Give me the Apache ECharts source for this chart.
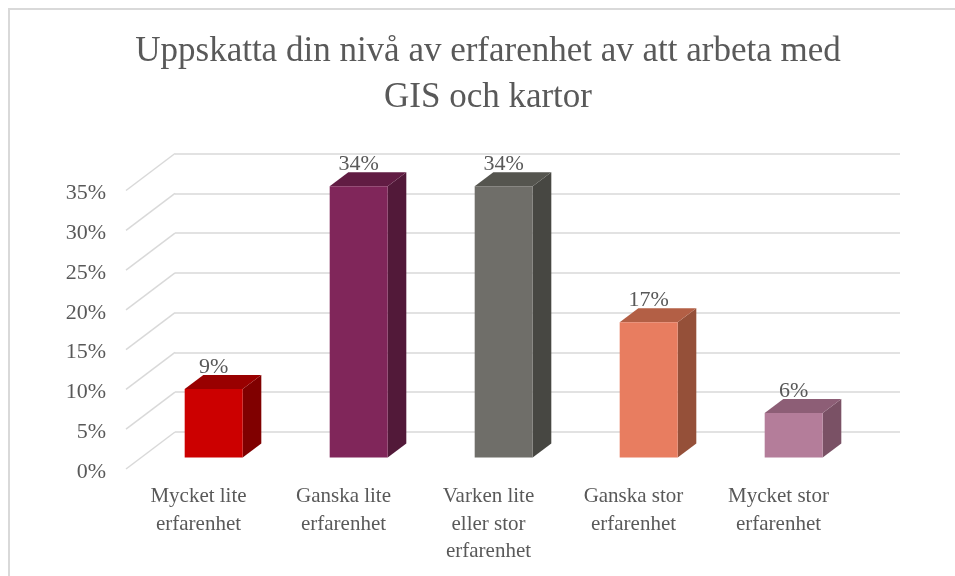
<!DOCTYPE html>
<html><head><meta charset="utf-8">
<script src="https://cdn.jsdelivr.net/npm/echarts@6/dist/echarts.min.js"></script>
<style>html,body{margin:0;padding:0;background:#fff}#c{width:955px;height:576px}</style>
</head><body><div id="c"></div>
<script>
const titleText = 'Uppskatta din nivå av erfarenhet av att arbeta med\nGIS och kartor';
const categories = ['Mycket lite\nerfarenhet', 'Ganska lite\nerfarenhet', 'Varken lite\neller stor\nerfarenhet', 'Ganska stor\nerfarenhet', 'Mycket stor\nerfarenhet'];
const values = [8.6, 34.1, 34.1, 17.0, 5.6];
const yTicks = [0, 5, 10, 15, 20, 25, 30, 35];
const frontColors = ['#CC0000', '#80265A', '#6F6E69', '#E87D60', '#B47D9A'];
const topColors = ['#990000', '#611C43', '#55554F', '#B35F45', '#8D5E76'];
const sideColors = ['#800000', '#521939', '#474742', '#955039', '#7A5165'];

const FONT = '"Liberation Serif", "DejaVu Serif", serif';
const TXT = '#595959';
const DX = -49, DY = 37;      // back wall -> front edge
const FF = 0.69, FB = 0.31;   // bar front/back face depth fractions

const chart = echarts.init(document.getElementById('c'), null, {renderer: 'canvas'});
chart.setOption({
  animation: false,
  backgroundColor: '#fff',
  graphic: [{type: 'rect', shape: {x: 9, y: 9, width: 1000, height: 1000}, style: {fill: 'none', stroke: '#d9d9d9', lineWidth: 2}, silent: true, z: -10}],
  title: {
    text: titleText, left: 488, textAlign: 'center', top: 29, padding: 0,
    textStyle: {fontFamily: FONT, fontSize: 35, fontWeight: 'normal', color: TXT, lineHeight: 46}
  },
  grid: [
    {left: 175, right: 55, top: 153.5, bottom: 144},
    {left: 126, right: 104, top: 193.5, bottom: 104}
  ],
  xAxis: [
    {type: 'category', gridIndex: 0, data: categories, show: false},
    {type: 'category', gridIndex: 1, data: categories,
     axisLine: {show: false}, axisTick: {show: false},
     axisLabel: {color: TXT, fontFamily: FONT, fontSize: 21, lineHeight: 27.5, margin: 11, interval: 0}}
  ],
  yAxis: [
    {type: 'value', gridIndex: 0, min: 0, max: 35, interval: 5,
     axisLine: {show: false}, axisTick: {show: false}, axisLabel: {show: false},
     splitLine: {lineStyle: {color: '#d9d9d9', width: 1.5}}},
    {type: 'value', gridIndex: 1, min: 0, max: 35, interval: 5,
     axisLine: {show: false}, axisTick: {show: false}, splitLine: {show: false},
     axisLabel: {color: TXT, fontFamily: FONT, fontSize: 22, margin: 20, formatter: v => v + '%'}}
  ],
  series: [
    {
      type: 'custom', xAxisIndex: 0, yAxisIndex: 0, silent: true, z: 1,
      data: yTicks.map(v => [0, v]),
      renderItem: (params, api) => {
        const p = api.coord([0, api.value(1)]);
        const x0 = params.coordSys.x;
        return {type: 'line', shape: {x1: x0, y1: p[1], x2: x0 + DX, y2: p[1] + DY},
                style: {stroke: '#d9d9d9', lineWidth: 1.5}};
      }
    },
    {
      type: 'custom', xAxisIndex: 0, yAxisIndex: 0, silent: true, z: 5,
      data: values.map((v, i) => [i, v]),
      renderItem: (params, api) => {
        const i = api.value(0), v = api.value(1);
        const b = api.coord([i, 0]), t = api.coord([i, v]);
        const hw = api.size([1, 0])[0] * 0.2;
        const fx = b[0] + DX * FF, fy0 = b[1] + DY * FF, fy1 = t[1] + DY * FF;
        const ddx = DX * (FB - FF), ddy = DY * (FB - FF);
        const idx = params.dataIndex;
        return {type: 'group', children: [
          {type: 'polygon', shape: {points: [[fx + hw, fy1], [fx + hw, fy0], [fx + hw + ddx, fy0 + ddy], [fx + hw + ddx, fy1 + ddy]]},
           style: {fill: sideColors[idx]}},
          {type: 'polygon', shape: {points: [[fx - hw, fy1], [fx + hw, fy1], [fx + hw + ddx, fy1 + ddy], [fx - hw + ddx, fy1 + ddy]]},
           style: {fill: topColors[idx]}},
          {type: 'rect', shape: {x: fx - hw, y: fy1, width: 2 * hw, height: fy0 - fy1},
           style: {fill: frontColors[idx]}},
          {type: 'text', x: fx, y: fy1 + ddy + 3,
           style: {text: Math.round(v) + '%', fill: TXT, font: '22px ' + FONT, align: 'center', verticalAlign: 'bottom'}}
        ]};
      }
    }
  ]
});
</script></body></html>
